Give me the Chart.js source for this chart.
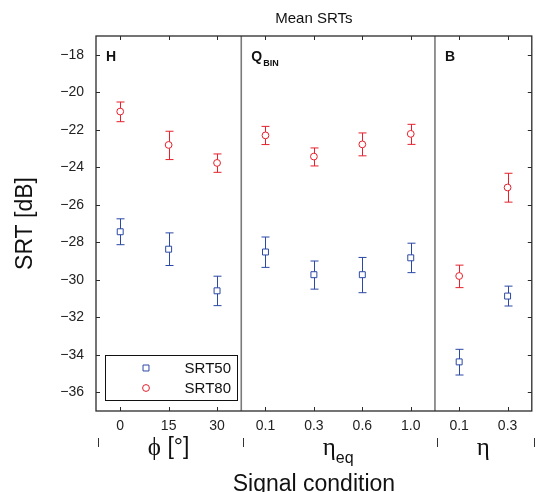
<!DOCTYPE html>
<html>
<head>
<meta charset="utf-8">
<script src="https://cdn.jsdelivr.net/npm/chart.js@4"></script>
<style>
html,body{margin:0;padding:0;background:#fff;}
canvas{display:block;}
</style>
</head>
<body>
<canvas id="c" width="537" height="492" style="width:537px;height:492px"></canvas>
<script>
// ---- data ----
const xLabels = ['0','15','30','0.1','0.3','0.6','1.0','0.1','0.3'];
const xPos = [1,2,3,4,5,6,7,8,9];
const srt50   = [-27.44,-28.37,-30.59,-28.52,-29.73,-29.73,-28.83,-34.38,-30.87];
const srt50Lo = [-28.13,-29.24,-31.38,-29.34,-30.50,-30.69,-29.62,-35.08,-31.40];
const srt50Hi = [-26.75,-27.50,-29.81,-27.72,-29.00,-28.81,-28.05,-33.71,-30.34];
const srt80   = [-21.03,-22.81,-23.77,-22.30,-23.43,-22.78,-22.22,-29.80,-25.08];
const srt80Lo = [-21.57,-23.59,-24.27,-22.79,-23.93,-23.39,-22.78,-30.42,-25.86];
const srt80Hi = [-20.52,-22.08,-23.29,-21.82,-22.97,-22.17,-21.71,-29.22,-24.32];
const yTicks = [-36,-34,-32,-30,-28,-26,-24,-22,-20,-18];
const groupBounds = [0.5,3.5,7.5,9.5];
const panelNames = ['H','Q','B'];
const panelSubs = ['','BIN',''];
const groupSymbols = ['ϕ','η','η'];
const groupSuffix = [' [°]','',''];
const groupSubs = ['','eq',''];
const seriesNames = ['SRT50','SRT80'];

const BLUE = '#2b48a6';
const RED = '#e6202c';
const SANS = '"Liberation Sans", Arial, sans-serif';
const SERIF = '"Liberation Serif", "DejaVu Serif", serif';

const errors = [[srt50Lo, srt50Hi],[srt80Lo, srt80Hi]];

const decor = {
  id: 'decor',
  beforeDatasetsDraw(chart) {
    const {ctx, chartArea: ca, scales: {x, y}} = chart;
    ctx.save();
    // group separators
    ctx.strokeStyle = '#7a7a7a';
    ctx.lineWidth = 1.6;
    [groupBounds[1], groupBounds[2]].forEach(v => {
      const px = x.getPixelForValue(v);
      ctx.beginPath(); ctx.moveTo(px, ca.top); ctx.lineTo(px, ca.bottom); ctx.stroke();
    });
    // error bars
    chart.data.datasets.forEach((ds, di) => {
      ctx.strokeStyle = ds.borderColor;
      ctx.lineWidth = 1;
      const [lo, hi] = errors[di];
      xPos.forEach((xv, i) => {
        const px = Math.round(x.getPixelForValue(xv)) + 0.5;
        const pl = y.getPixelForValue(lo[i]);
        const ph = y.getPixelForValue(hi[i]);
        ctx.beginPath();
        ctx.moveTo(px, pl); ctx.lineTo(px, ph);
        ctx.moveTo(px - 4, pl); ctx.lineTo(px + 4, pl);
        ctx.moveTo(px - 4, ph); ctx.lineTo(px + 4, ph);
        ctx.stroke();
      });
    });
    ctx.restore();
  },
  afterDraw(chart) {
    const {ctx, chartArea: ca, scales: {x, y}} = chart;
    ctx.save();
    // frame
    ctx.strokeStyle = '#2a2a2a';
    ctx.lineWidth = 1.3;
    ctx.strokeRect(ca.left, ca.top, ca.right - ca.left, ca.bottom - ca.top);
    // tick marks inward
    ctx.lineWidth = 1;
    ctx.beginPath();
    xPos.forEach(v => {
      const px = Math.round(x.getPixelForValue(v)) + 0.5;
      ctx.moveTo(px, ca.bottom); ctx.lineTo(px, ca.bottom - 4);
      ctx.moveTo(px, ca.top); ctx.lineTo(px, ca.top + 4);
    });
    yTicks.forEach(v => {
      const py = Math.round(y.getPixelForValue(v)) + 0.5;
      ctx.moveTo(ca.left, py); ctx.lineTo(ca.left + 4, py);
      ctx.moveTo(ca.right, py); ctx.lineTo(ca.right - 4, py);
    });
    ctx.stroke();

    // panel labels
    ctx.fillStyle = '#111';
    ctx.textBaseline = 'alphabetic';
    ctx.textAlign = 'left';
    panelNames.forEach((t, i) => {
      const px = x.getPixelForValue(groupBounds[i]) + 10;
      ctx.font = 'bold 14px ' + SANS;
      ctx.fillText(t, px, ca.top + 25);
      if (panelSubs[i]) {
        const w = ctx.measureText(t).width;
        ctx.font = 'bold 9px ' + SANS;
        ctx.fillText(panelSubs[i], px + w + 1, ca.top + 30);
      }
    });

    // legend
    const lx = ca.left + 9, lb = ca.bottom - 11, lw = 132, lh = 45;
    ctx.fillStyle = '#fff';
    ctx.fillRect(lx, lb - lh, lw, lh);
    ctx.strokeStyle = '#111';
    ctx.lineWidth = 1;
    ctx.strokeRect(lx + 0.5, lb - lh + 0.5, lw, lh);
    chart.data.datasets.forEach((ds, di) => {
      const cy = lb - lh + 13 + di * 20;
      ctx.strokeStyle = ds.borderColor;
      ctx.fillStyle = '#fff';
      ctx.lineWidth = 1;
      Chart.helpers.drawPoint(ctx, {pointStyle: ds.pointStyle, radius: ds.pointRadius, borderWidth: 1, rotation: 0}, lx + 41, cy);
      ctx.fillStyle = '#111';
      ctx.font = '15px ' + SANS;
      ctx.textAlign = 'right';
      ctx.textBaseline = 'middle';
      ctx.fillText(seriesNames[di], lx + lw - 6, cy + 1);
    });

    // title
    ctx.fillStyle = '#111';
    ctx.font = '15px ' + SANS;
    ctx.textAlign = 'center';
    ctx.textBaseline = 'middle';
    ctx.fillText('Mean SRTs', (ca.left + ca.right) / 2, 19);

    // y title
    ctx.save();
    ctx.translate(26, (ca.top + ca.bottom) / 2);
    ctx.rotate(-Math.PI / 2);
    ctx.font = '23px ' + SANS;
    ctx.textAlign = 'center';
    ctx.textBaseline = 'middle';
    ctx.fillText('SRT [dB]', 0, 0);
    ctx.restore();

    // x title
    ctx.font = '23px ' + SANS;
    ctx.textAlign = 'center';
    ctx.textBaseline = 'alphabetic';
    ctx.fillText('Signal condition', (ca.left + ca.right) / 2, 491);

    // group separators under axis
    ctx.strokeStyle = '#333';
    ctx.lineWidth = 1;
    ctx.beginPath();
    groupBounds.forEach(v => {
      const px = Math.round(x.getPixelForValue(v)) + 2.5;
      ctx.moveTo(px, 438); ctx.lineTo(px, 447);
    });
    ctx.stroke();

    // group labels
    const base = 455;
    for (let i = 0; i < 3; i++) {
      const cx = (x.getPixelForValue(groupBounds[i]) + x.getPixelForValue(groupBounds[i + 1])) / 2;
      ctx.font = '25px ' + SERIF;
      const ws = ctx.measureText(groupSymbols[i]).width;
      ctx.font = '23px ' + SANS;
      const wf = ctx.measureText(groupSuffix[i]).width;
      ctx.font = '16px ' + SANS;
      const wb = ctx.measureText(groupSubs[i]).width;
      const total = ws + wf + wb;
      let px = cx - total / 2;
      ctx.textAlign = 'left';
      ctx.textBaseline = 'alphabetic';
      ctx.font = '25px ' + SERIF;
      ctx.fillText(groupSymbols[i], px, base);
      px += ws;
      if (groupSuffix[i]) {
        ctx.font = '23px ' + SANS;
        ctx.fillText(groupSuffix[i], px, base - 1);
        px += wf;
      }
      if (groupSubs[i]) {
        ctx.font = '16px ' + SANS;
        ctx.fillText(groupSubs[i], px, base + 8);
      }
    }
    ctx.restore();
  }
};

new Chart(document.getElementById('c'), {
  type: 'scatter',
  data: {
    datasets: [
      {
        label: seriesNames[0],
        data: xPos.map((v, i) => ({x: v, y: srt50[i]})),
        pointStyle: 'rect', pointRadius: 4.2, pointBorderWidth: 1,
        borderColor: BLUE, backgroundColor: '#fff', showLine: false
      },
      {
        label: seriesNames[1],
        data: xPos.map((v, i) => ({x: v, y: srt80[i]})),
        pointStyle: 'circle', pointRadius: 3.4, pointBorderWidth: 1,
        borderColor: RED, backgroundColor: '#fff', showLine: false
      }
    ]
  },
  options: {
    responsive: false,
    animation: false,
    devicePixelRatio: 1,
    layout: {padding: {top: 36, right: 5, left: 0, bottom: 0}},
    plugins: {legend: {display: false}, title: {display: false}, tooltip: {enabled: false}},
    scales: {
      x: {
        type: 'linear', min: 0.5, max: 9.5,
        afterBuildTicks: s => { s.ticks = xPos.map(v => ({value: v})); },
        afterFit: s => { s.height = 81; },
        grid: {display: false, drawTicks: false},
        border: {display: false},
        ticks: {
          autoSkip: false, maxRotation: 0, padding: 7,
          color: '#222', font: {family: SANS, size: 14},
          callback: (v, i) => xLabels[i]
        }
      },
      y: {
        type: 'linear', min: -37, max: -17,
        afterBuildTicks: s => { s.ticks = yTicks.map(v => ({value: v})); },
        afterFit: s => { s.width = 96; },
        grid: {display: false, drawTicks: false},
        border: {display: false},
        ticks: {
          padding: 12, color: '#222', font: {family: SANS, size: 14},
          callback: v => (v < 0 ? '\u2212' : '') + Math.abs(v)
        }
      }
    }
  },
  plugins: [decor]
});
</script>
</body>
</html>
